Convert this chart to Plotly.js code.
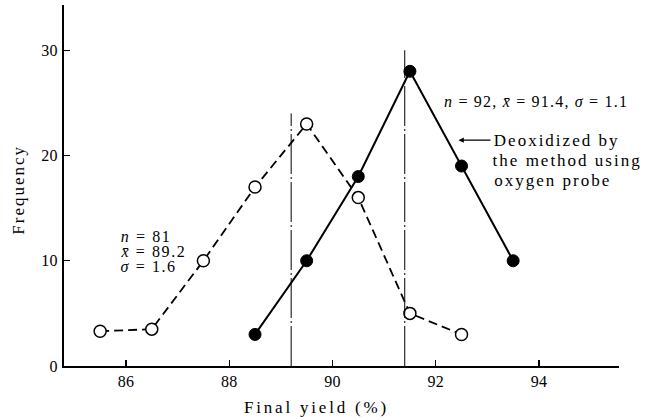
<!DOCTYPE html>
<html>
<head>
<meta charset="utf-8">
<script src="https://cdn.plot.ly/plotly-3.0.1.min.js"></script>
<style>
  html, body { margin: 0; padding: 0; background: #fff; }
  #chart { width: 648px; height: 420px; }
  .annotation-text { letter-spacing: 1.2px; }
  .annotation[data-index="0"] .annotation-text,
  .annotation[data-index="1"] .annotation-text,
  .annotation[data-index="2"] .annotation-text { letter-spacing: 1.6px; }
  .annotation[data-index="4"] .annotation-text,
  .annotation[data-index="5"] .annotation-text,
  .annotation[data-index="6"] .annotation-text { letter-spacing: 2px; }
  .annotation[data-index="8"] .annotation-text { letter-spacing: 2px; }
  .annotation[data-index="9"] .annotation-text { letter-spacing: 2.8px; }
  .xtick text, .ytick text { letter-spacing: 0.3px; }
</style>
</head>
<body>
<div id="chart"></div>
<script>
// Class midpoints of final yield (%) and their frequencies
const yieldConventional = [85.5, 86.5, 87.5, 88.5, 89.5, 90.5, 91.5, 92.5];
const freqConventional  = [3.3, 3.5, 10, 17, 23, 16, 5, 3];

const yieldProbe = [88.5, 89.5, 90.5, 91.5, 92.5, 93.5];
const freqProbe  = [3, 10, 18, 28, 19, 10];

// Means stated in the annotations
const meanConventional = 89.2;
const meanProbe = 91.4;
const meanLineTop = [24, 30];

const xTicks = [86, 88, 90, 92, 94];
const yTicks = [0, 10, 20, 30];

const SERIF = 'Liberation Serif, Times New Roman, serif';

const traces = [
  {
    x: yieldConventional, y: freqConventional,
    type: 'scatter', mode: 'lines+markers',
    line: { color: '#000', width: 1.8, dash: '9px,5px' },
    marker: { symbol: 'circle', size: 12, color: '#fff', line: { color: '#000', width: 1.5 } },
    hoverinfo: 'x+y', showlegend: false
  },
  {
    x: yieldProbe, y: freqProbe,
    type: 'scatter', mode: 'lines+markers',
    line: { color: '#000', width: 2 },
    marker: { symbol: 'circle', size: 12, color: '#000', line: { color: '#000', width: 1 } },
    hoverinfo: 'x+y', showlegend: false
  }
];

const meanLine = (x, top) => ({
  type: 'line', xref: 'x', yref: 'y',
  x0: x, x1: x, y0: 0, y1: top,
  line: { color: '#000', width: 1, dash: '40px,3px,2px,3px' }
});

const txt = (x, y, text, size) => ({
  x: x, y: y, xref: 'x', yref: 'y', text: text,
  showarrow: false, xanchor: 'left', yanchor: 'middle',
  font: { family: SERIF, size: size || 16, color: '#000' }
});

const annotations = [
  txt(85.88, 12.3, '<i>n</i> = 81'),
  txt(85.88, 10.9, '<i>x̄</i> = 89.2'),
  txt(85.88, 9.5, '<i>σ</i> = 1.6'),
  txt(92.12, 25.17, '<i>n</i> = 92, <i>x̄</i> = 91.4, <i>σ</i> = 1.1', 16),
  txt(93.19, 21.46, 'Deoxidized by', 17),
  txt(93.19, 19.56, 'the method using', 17),
  txt(93.19, 17.66, 'oxygen probe', 17),
  {
    // pointer from the caption to the solid curve
    x: 92.44, y: 21.46, xref: 'x', yref: 'y',
    ax: 93.09, ay: 21.46, axref: 'x', ayref: 'y',
    text: '', showarrow: true, arrowhead: 2, arrowsize: 0.9,
    arrowwidth: 1.2, arrowcolor: '#000', standoff: 0, startstandoff: 0
  },
  {
    x: -0.083, y: 0.49, xref: 'paper', yref: 'paper',
    text: 'Frequency', textangle: -90, showarrow: false,
    xanchor: 'center', yanchor: 'middle',
    font: { family: SERIF, size: 17, color: '#000' }
  },
  {
    x: 0.455, y: -0.115, xref: 'paper', yref: 'paper',
    text: 'Final yield (%)', showarrow: false,
    xanchor: 'center', yanchor: 'middle',
    font: { family: SERIF, size: 17, color: '#000' }
  }
];

const layout = {
  width: 648, height: 420,
  margin: { l: 64, r: 29, t: 5, b: 54 },
  paper_bgcolor: '#fff', plot_bgcolor: '#fff',
  font: { family: SERIF, color: '#000' },
  xaxis: {
    range: [84.8, 95.55], tickvals: xTicks, ticktext: xTicks.map(String),
    ticks: 'inside', ticklen: 6, tickwidth: 1.2, tickcolor: '#000',
    showline: true, linecolor: '#000', linewidth: 1.5,
    showgrid: false, zeroline: false, ticklabelstandoff: 0,
    tickfont: { family: SERIF, size: 16, color: '#000' }
  },
  yaxis: {
    range: [0, 34.3], tickvals: yTicks, ticktext: yTicks.map(String),
    ticks: 'inside', ticklen: 6, tickwidth: 1.2, tickcolor: '#000',
    showline: true, linecolor: '#000', linewidth: 2,
    showgrid: false, zeroline: false, ticklabelstandoff: 1,
    tickfont: { family: SERIF, size: 16, color: '#000' }
  },
  shapes: [meanLine(meanConventional, meanLineTop[0]), meanLine(meanProbe, meanLineTop[1])],
  annotations: annotations
};

Plotly.newPlot('chart', traces, layout, { staticPlot: true, displayModeBar: false });
</script>
</body>
</html>
